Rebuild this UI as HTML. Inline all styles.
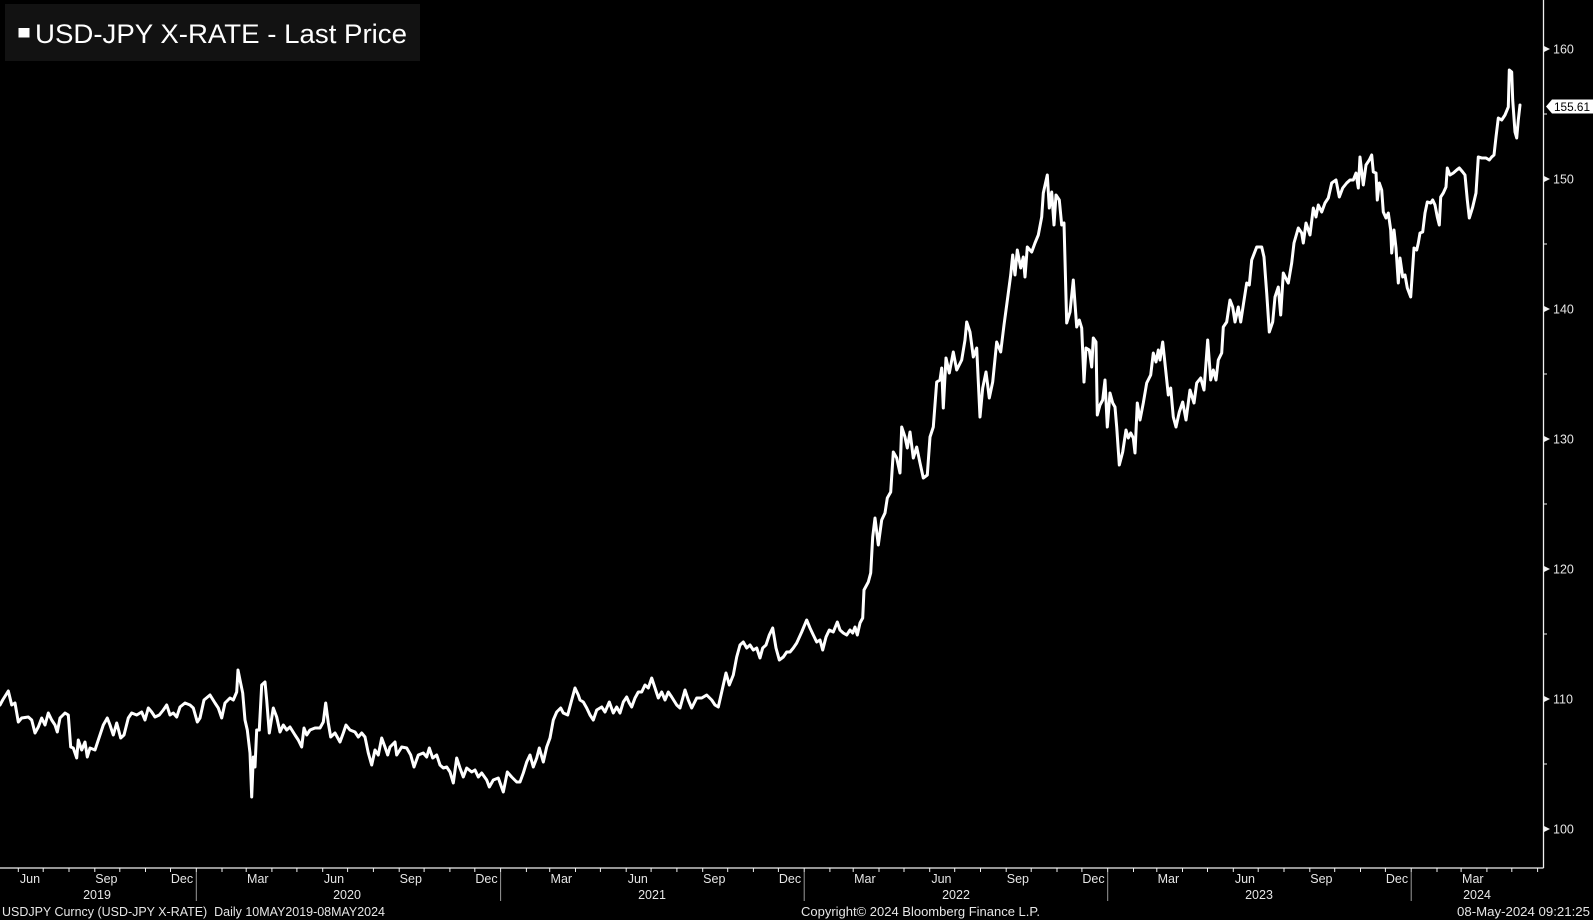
<!DOCTYPE html>
<html><head><meta charset="utf-8">
<style>
html,body{margin:0;padding:0;background:#000;}
body{width:1593px;height:920px;overflow:hidden;}
svg{display:block;}
text{font-family:"Liberation Sans",sans-serif;}
</style></head>
<body>
<svg width="1593" height="920" viewBox="0 0 1593 920" xmlns="http://www.w3.org/2000/svg">
<rect x="0" y="0" width="1593" height="920" fill="#000"/>

<!-- price line -->
<polyline fill="none" stroke="#ffffff" stroke-width="3" stroke-linejoin="round" stroke-linecap="round" points="
0,705 2.7,700 8.3,691 11.7,705 15,703 18.3,722 21.7,718 28.3,717 31.7,720 35,733 38.3,727 41.7,718 45,725 48.3,713 51.7,720 55,725 57.3,732 60,718 65,713 68.3,715 70.7,747 73.3,748 76.7,758 78.3,740 81.7,750 85,742 87.3,757 90,748 95,750 98.3,740 103.3,725 107.3,718 110,725 113.3,735 116.7,723 120.7,738 124,735 128.3,718 131.7,713 136.7,715 141.7,712 145,720 148.3,708 151.7,712 155,717 159.3,715 163.3,710 166.7,705 170,715 173.3,713 176.7,717 180,707 185,703 190,705 193.3,708 197.3,722 200,718 204,700 210,695 215,703 218.3,708 221.7,718 225,703 230,698 233.3,700 236.7,692 238,670 240,680 242.7,693 245,720 247.3,730 250,753 251.7,797 253.3,757 255,767 256.7,730 259.3,730 261.7,685 265,682 266.7,700 269.3,733 273.3,708 276.7,717 280,732 283.3,725 286.7,730
290,727 295,735 298.3,740 301.7,747 304,728 306.7,735 310,730 315,728 320,728 323.3,722 325.7,703 328.3,723 330.7,737 335,733 340,742 343.3,733 346,725 350,730 355,732 358.3,737 361.7,733 365,737 368.3,753 371.7,765 375,750 378.3,755 381.7,738 385,747 387.7,755 390,747 395,742 396.7,755 401.7,747 406.7,748 410.7,755 414,767 418.3,755 423.3,753 426.7,757 429.3,748 432.7,758 436.7,755 440,765 443.3,768 446.7,767 450,772 453.3,783 456.7,758 460,768 463.3,777 466.7,768 471.7,772 475,770 478.3,777 481.7,773 486.7,780 489.3,787 493.3,780 498.3,778 503.3,792 507.3,772 511.7,777 516.7,782 520,782 523.3,773 526.7,762 530,755 533.3,767 536.7,758 539.3,748 543.3,762 546.7,747 550,738 553.3,720 556.7,712 560.7,708 563.3,713 567.7,715 571.7,700 575,688 578.3,695
580,700 583.3,702 586.7,708 590,715 593.3,720 596.7,710 601.7,707 605,712 609.3,702 613.3,713 616.7,707 620,713 623.3,702 626.7,697 629.3,703 631.7,707 635,698 638.3,692 641.7,692 645,685 648.3,688 651.7,678 655,688 658.3,698 661.7,692 665,700 668.3,692 671.7,697 676.7,705 680,708 685,690 688.3,700 691.7,708 696.7,698 701.7,698 706.7,695 711.7,700 715,705 718.3,707 721.7,692 726,673 729.3,685 733.3,675 736.7,657 740,645 743.3,642 746.7,648 750,645 753.3,650 756.7,648 760,658 762.7,648 766,645 769.3,635 772.7,628 776,648 779.3,660 783.3,657 786.7,652 790,652 793.3,648 796.7,643 801.7,632 806.7,620 810,628 813.3,635 816.7,642 820,640 822.7,650 826,637 829.3,630 833.3,632 837.3,622 840,630 843.3,633 846.7,635 850,630 852.7,633 855,627 857.3,635 860,623 862.7,618
864,590 868.3,582 870.7,573 872.7,537 875,518 878.3,545 881.7,520 885,513 887.3,498 890.7,492 893.3,452 896.7,458 900,473 901.7,427 905,437 907.3,448 910,432 913.3,458 916.7,447 920,463 923.3,478 927.3,475 930,437 933.3,427 936.7,382 940,380 941.7,368 943.3,408 946,358 949.3,373 953.3,352 956.7,370 961.7,360 965,340 966.7,322 970,332 973.3,357 976.7,348 980,417 982.7,388 986,372 989.3,398 992.7,382 996.7,342 1000.7,352 1004,325 1006.7,305 1010.7,275 1012.7,255 1015,275 1017.3,250 1020.7,268 1023.3,257 1025,277 1027.3,247 1031.7,252 1035,243 1038.3,235 1041.7,217 1043.3,193 1047.3,175 1049.3,208 1051.7,192 1054,225 1056,195 1059.3,200 1061.7,225 1064,223 1066.7,323 1070,312 1073.3,280 1076.7,327 1079.3,320 1081.7,328 1084,382 1086,348 1089.3,350 1091.7,367 1093.3,338 1096,342 1097.3,415 1100,405 1102.7,400 1105,380 1107.3,427
1110,393 1112.7,403 1115,407 1116.7,427 1119.3,465 1122.7,452 1126,430 1128.3,438 1130.7,433 1133.3,438 1135,453 1137.3,403 1140,420 1143.3,403 1146.7,383 1150.7,375 1153.3,353 1156,362 1158.3,350 1160,360 1162.7,342 1166,373 1168.3,395 1170.7,388 1173.3,417 1176,427 1179.3,412 1182.7,402 1186,420 1190,390 1194,403 1196.7,383 1200.7,378 1204,390 1207.7,340 1210.7,380 1213.3,370 1216,380 1218.3,360 1221.7,353 1223.3,327 1226.7,322 1230,300 1232.7,307 1235,322 1238.3,307 1240.7,322 1243.3,305 1246.7,283 1249.3,285 1251.7,260 1256.7,247 1261.7,247 1264,257 1266.7,293 1269.3,332 1272.7,322 1275,297 1278.3,287 1280.7,315 1283.3,273 1286.7,280 1288.3,283 1291.7,263 1294,243 1298.3,228 1301.7,233 1303.3,243 1306,223 1310,235 1313.3,208 1316,217 1318.3,205 1321.7,212 1325,203 1328.3,198 1331.7,183 1336,180 1339.3,197 1342.7,188 1346.7,183 1350,180
1353.3,180 1356,173 1358.3,188 1360,157 1363.3,185 1366,165 1369.3,160 1371.7,155 1373.3,172 1376,173 1377.3,200 1379.3,183 1381.7,190 1383.3,212 1386,218 1388.3,213 1390.7,230 1391.7,253 1394,230 1396,248 1398.3,283 1400,258 1402.7,277 1405,275 1407.3,288 1410.7,297 1414,248 1416.7,250 1418.3,243 1420,233 1422.7,232 1425,213 1427.3,202 1430.7,203 1432.7,200 1435,205 1437.3,217 1439.3,225 1440.7,197 1443.3,193 1446,187 1447.3,168 1450,175 1453.3,173 1456.7,170 1459.3,168 1462.7,172 1465,175 1467.3,200 1469.3,218 1472.7,207 1476,193 1478.3,157 1481.7,158 1486,158 1489.3,160 1491.7,157 1494,155 1496,137 1498.3,118 1501.7,120 1505,115 1508.3,107 1509.3,70 1511.7,72 1512.7,100 1515,132 1516.7,138 1518.3,120 1520,105"/>

<!-- axes -->
<line x1="0" y1="868" x2="1543.5" y2="868" stroke="#f0f0f0" stroke-width="1.3"/>
<line x1="1543.5" y1="0" x2="1543.5" y2="868" stroke="#f0f0f0" stroke-width="1.3"/>

<!-- y ticks -->
<g fill="#f0f0f0">
<polygon points="1544,46 1550,49 1544,52"/>
<polygon points="1544,176 1550,179 1544,182"/>
<polygon points="1544,306 1550,309 1544,312"/>
<polygon points="1544,436 1550,439 1544,442"/>
<polygon points="1544,566 1550,569 1544,572"/>
<polygon points="1544,696 1550,699 1544,702"/>
<polygon points="1544,826 1550,829 1544,832"/>
</g>
<g stroke="#f0f0f0" stroke-width="1">
<line x1="1543" y1="114" x2="1547" y2="114"/>
<line x1="1543" y1="244" x2="1547" y2="244"/>
<line x1="1543" y1="374" x2="1547" y2="374"/>
<line x1="1543" y1="504" x2="1547" y2="504"/>
<line x1="1543" y1="634" x2="1547" y2="634"/>
<line x1="1543" y1="764" x2="1547" y2="764"/>
</g>
<g fill="#e6e6e6" font-size="12.5">
<text x="1553" y="53.5">160</text>
<text x="1553" y="183.5">150</text>
<text x="1553" y="313.5">140</text>
<text x="1553" y="443.5">130</text>
<text x="1553" y="573.5">120</text>
<text x="1553" y="703.5">110</text>
<text x="1553" y="833.5">100</text>
</g>

<!-- last price label -->
<polygon points="1546,106.5 1552,99.5 1593,99.5 1593,113.5 1552,113.5" fill="#ffffff"/>
<text x="1554" y="111" font-size="12" fill="#000" textLength="36" lengthAdjust="spacingAndGlyphs">155.61</text>

<!-- x ticks (monthly) -->
<g stroke="#f0f0f0" stroke-width="1">
<line x1="18.3" y1="868" x2="18.3" y2="872"/><line x1="43.2" y1="868" x2="43.2" y2="872"/><line x1="69" y1="868" x2="69" y2="872"/><line x1="94.8" y1="868" x2="94.8" y2="872"/><line x1="119.8" y1="868" x2="119.8" y2="872"/><line x1="145.5" y1="868" x2="145.5" y2="872"/><line x1="170.5" y1="868" x2="170.5" y2="872"/><line x1="196.3" y1="868" x2="196.3" y2="872"/><line x1="222" y1="868" x2="222" y2="872"/><line x1="246.2" y1="868" x2="246.2" y2="872"/><line x1="271.9" y1="868" x2="271.9" y2="872"/><line x1="296.9" y1="868" x2="296.9" y2="872"/><line x1="322.7" y1="868" x2="322.7" y2="872"/><line x1="347.6" y1="868" x2="347.6" y2="872"/><line x1="373.4" y1="868" x2="373.4" y2="872"/><line x1="399.2" y1="868" x2="399.2" y2="872"/><line x1="424.1" y1="868" x2="424.1" y2="872"/><line x1="449.9" y1="868" x2="449.9" y2="872"/><line x1="474.8" y1="868" x2="474.8" y2="872"/><line x1="500.6" y1="868" x2="500.6" y2="872"/><line x1="526.4" y1="868" x2="526.4" y2="872"/><line x1="549.7" y1="868" x2="549.7" y2="872"/><line x1="575.5" y1="868" x2="575.5" y2="872"/><line x1="600.4" y1="868" x2="600.4" y2="872"/><line x1="626.2" y1="868" x2="626.2" y2="872"/><line x1="651.1" y1="868" x2="651.1" y2="872"/><line x1="676.9" y1="868" x2="676.9" y2="872"/><line x1="702.7" y1="868" x2="702.7" y2="872"/><line x1="727.7" y1="868" x2="727.7" y2="872"/><line x1="753.4" y1="868" x2="753.4" y2="872"/><line x1="778.4" y1="868" x2="778.4" y2="872"/><line x1="804.2" y1="868" x2="804.2" y2="872"/><line x1="829.9" y1="868" x2="829.9" y2="872"/><line x1="853.2" y1="868" x2="853.2" y2="872"/><line x1="879" y1="868" x2="879" y2="872"/><line x1="904" y1="868" x2="904" y2="872"/><line x1="929.7" y1="868" x2="929.7" y2="872"/><line x1="954.7" y1="868" x2="954.7" y2="872"/><line x1="980.5" y1="868" x2="980.5" y2="872"/><line x1="1006.2" y1="868" x2="1006.2" y2="872"/><line x1="1031.2" y1="868" x2="1031.2" y2="872"/><line x1="1057" y1="868" x2="1057" y2="872"/><line x1="1081.9" y1="868" x2="1081.9" y2="872"/><line x1="1107.7" y1="868" x2="1107.7" y2="872"/><line x1="1133.5" y1="868" x2="1133.5" y2="872"/><line x1="1156.8" y1="868" x2="1156.8" y2="872"/><line x1="1182.5" y1="868" x2="1182.5" y2="872"/><line x1="1207.5" y1="868" x2="1207.5" y2="872"/><line x1="1233.3" y1="868" x2="1233.3" y2="872"/><line x1="1258.2" y1="868" x2="1258.2" y2="872"/><line x1="1284" y1="868" x2="1284" y2="872"/><line x1="1309.8" y1="868" x2="1309.8" y2="872"/><line x1="1334.7" y1="868" x2="1334.7" y2="872"/><line x1="1360.5" y1="868" x2="1360.5" y2="872"/><line x1="1385.4" y1="868" x2="1385.4" y2="872"/><line x1="1411.2" y1="868" x2="1411.2" y2="872"/><line x1="1437" y1="868" x2="1437" y2="872"/><line x1="1461.1" y1="868" x2="1461.1" y2="872"/><line x1="1486.9" y1="868" x2="1486.9" y2="872"/><line x1="1511.8" y1="868" x2="1511.8" y2="872"/><line x1="1537.6" y1="868" x2="1537.6" y2="872"/>
</g>

<!-- year dividers -->
<g stroke="#9a9a9a" stroke-width="1">
<line x1="196.3" y1="872" x2="196.3" y2="901"/>
<line x1="500.6" y1="872" x2="500.6" y2="901"/>
<line x1="804.2" y1="872" x2="804.2" y2="901"/>
<line x1="1107.7" y1="872" x2="1107.7" y2="901"/>
<line x1="1411.2" y1="872" x2="1411.2" y2="901"/>
</g>

<!-- month labels -->
<g fill="#e6e6e6" font-size="12.5" text-anchor="middle">
<text x="30" y="883">Jun</text><text x="106.4" y="883">Sep</text><text x="182" y="883">Dec</text>
<text x="257.8" y="883">Mar</text><text x="334" y="883">Jun</text><text x="410.8" y="883">Sep</text><text x="486.5" y="883">Dec</text>
<text x="561.3" y="883">Mar</text><text x="637.8" y="883">Jun</text><text x="714.3" y="883">Sep</text><text x="790" y="883">Dec</text>
<text x="864.9" y="883">Mar</text><text x="941.4" y="883">Jun</text><text x="1017.9" y="883">Sep</text><text x="1093.5" y="883">Dec</text>
<text x="1168.4" y="883">Mar</text><text x="1244.9" y="883">Jun</text><text x="1321.4" y="883">Sep</text><text x="1397" y="883">Dec</text>
<text x="1472.8" y="883">Mar</text>
</g>
<g fill="#e6e6e6" font-size="12.5" text-anchor="middle">
<text x="97" y="899">2019</text>
<text x="347" y="899">2020</text>
<text x="652" y="899">2021</text>
<text x="956" y="899">2022</text>
<text x="1259" y="899">2023</text>
<text x="1477" y="899">2024</text>
</g>

<!-- footer -->
<g fill="#e6e6e6" font-size="12.5">
<text x="2" y="916" textLength="383" lengthAdjust="spacingAndGlyphs" xml:space="preserve">USDJPY Curncy (USD-JPY X-RATE)  Daily 10MAY2019-08MAY2024</text>
<text x="801" y="916" textLength="239" lengthAdjust="spacingAndGlyphs">Copyright© 2024 Bloomberg Finance L.P.</text>
<text x="1457" y="916" textLength="133" lengthAdjust="spacingAndGlyphs">08-May-2024 09:21:25</text>
</g>

<!-- legend/title box -->
<rect x="5" y="4" width="415" height="57" fill="#121212"/>
<rect x="18.5" y="28" width="11" height="9.5" fill="#ffffff"/>
<text x="35" y="43" font-size="26.5" fill="#ffffff" textLength="372" lengthAdjust="spacingAndGlyphs">USD-JPY X-RATE - Last Price</text>
</svg>
</body></html>
